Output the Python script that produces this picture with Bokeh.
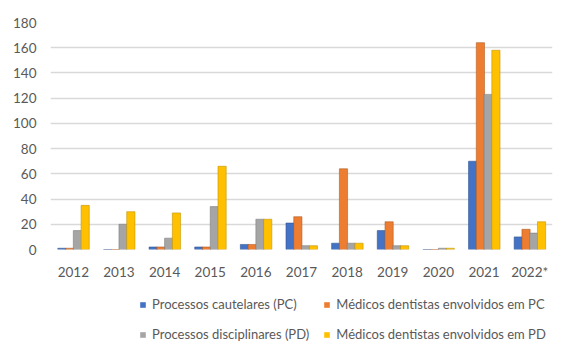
from bokeh.plotting import figure
from bokeh.models import ColumnDataSource, Legend, LegendItem, FactorRange
from bokeh.layouts import column
from bokeh.transform import dodge
from bokeh.embed import file_html
from bokeh.resources import INLINE

years = ["2012", "2013", "2014", "2015", "2016", "2017", "2018", "2019", "2020", "2021", "2022*"]
pc = [1, 0, 2, 2, 4, 21, 5, 15, 0, 70, 10]
med_pc = [1, 0, 2, 2, 4, 26, 64, 22, 0, 164, 16]
pd_ = [15, 20, 9, 34, 24, 3, 5, 3, 1, 123, 13]
med_pd = [35, 30, 29, 66, 24, 3, 5, 3, 1, 158, 22]
labels = ["Processos cautelares (PC)", "Médicos dentistas envolvidos em PC",
          "Processos disciplinares (PD)", "Médicos dentistas envolvidos em PD"]
colors = ["#4472C4", "#ED7D31", "#A5A5A5", "#FFC000"]
edges = ["#2F528F", "#AE5A21", "#7B7B7B", "#BF9000"]
yticks = [0, 20, 40, 60, 80, 100, 120, 140, 160, 180]

src = ColumnDataSource(dict(years=years, pc=pc, med_pc=med_pc, pd_=pd_, med_pd=med_pd))

p = figure(x_range=FactorRange(*years, range_padding=0), y_range=(0, 180),
           width=568, height=287, output_backend="svg", toolbar_location=None,
           min_border_left=50, min_border_right=16, min_border_top=22, min_border_bottom=38)

fields = ["pc", "med_pc", "pd_", "med_pd"]
offsets = [-0.25, -0.08, 0.09, 0.26]
for f, off, c, e in zip(fields, offsets, colors, edges):
    p.vbar(x=dodge("years", off, range=p.x_range), top=f, width=0.18, source=src,
           fill_color=c, line_color=e, line_width=0.8, line_alpha=0.7)

p.outline_line_color = None
p.background_fill_color = "white"
p.border_fill_color = "white"
p.xgrid.grid_line_color = None
p.ygrid.grid_line_color = "#D9D9D9"
p.ygrid.grid_line_width = 1.5
p.yaxis.ticker = yticks
for ax in (p.xaxis, p.yaxis):
    ax.axis_line_color = None
    ax.major_tick_line_color = None
    ax.minor_tick_line_color = None
    ax.major_tick_out = 0
    ax.major_tick_in = 0
    ax.major_label_text_font = "Lato"
    ax.major_label_text_font_size = "13.5px"
    ax.major_label_text_color = "#595959"
p.yaxis.major_label_standoff = 14
p.xaxis.major_label_standoff = 14

# legend strip: same series, drawn in a strip whose y-range keeps bars out of view
lp = figure(x_range=p.x_range, y_range=(1000, 1001), width=568, height=70,
            output_backend="svg", toolbar_location=None, x_axis_type=None, y_axis_type=None,
            min_border=0)
lp.outline_line_color = None
lp.xgrid.grid_line_color = None
lp.ygrid.grid_line_color = None
items = []
for f, off, c, lab in zip(fields, offsets, colors, labels):
    r = lp.vbar(x=dodge("years", off, range=lp.x_range), top=f, width=0.18, source=src,
                fill_color=c, line_color=None)
    items.append(LegendItem(label=lab, renderers=[r]))

lg = Legend(items=items, orientation="horizontal", ncols=2, location=(89, 15))
lg.label_text_font = "Lato"
lg.label_text_font_size = "13px"
lg.label_text_color = "#595959"
lg.glyph_width = 7
lg.glyph_height = 7
lg.label_standoff = 6
lg.spacing = 14
lg.label_height = 15
lg.border_line_color = None
lg.background_fill_alpha = 0
lg.padding = 2
lg.margin = 0
lp.add_layout(lg, "center")

open("out.html", "w").write(file_html(column(p, lp, spacing=0), INLINE))
